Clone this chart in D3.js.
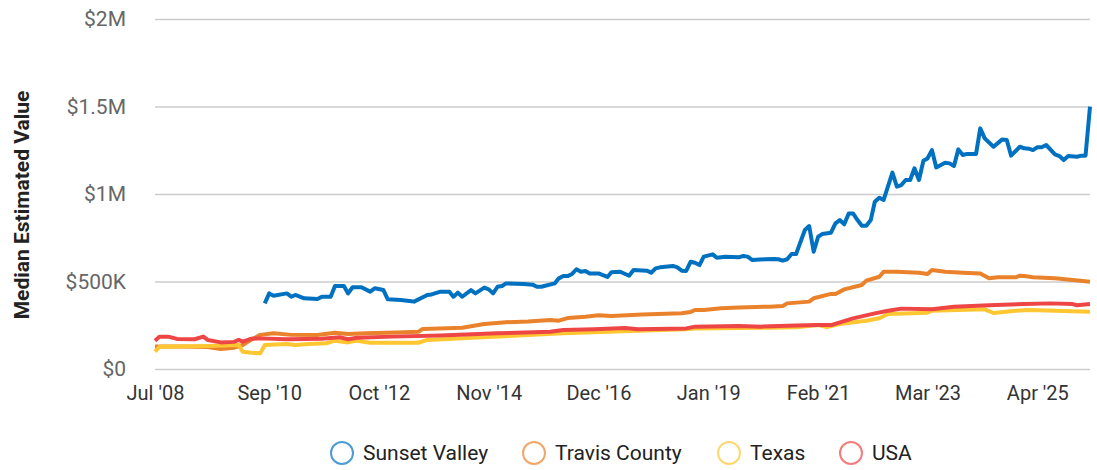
<!DOCTYPE html>
<meta charset="utf-8">
<body style="margin:0;background:#fff">
</body>
<script src="https://d3js.org/d3.v7.min.js"></script>
<script>

// series names and colours (legend order)
var seriesNames = ["Sunset Valley", "Travis County", "Texas", "USA"];
var lineColors = ["#0071c1", "#e9822a", "#fec631", "#ee4545"];

// values in $K, [month, value]
var sunsetValley = [
  ["2010-08",375],["2010-09",432],["2010-10",419],["2011-01",432],["2011-02",413],["2011-03",423],
  ["2011-05",404],["2011-08",400],["2011-09",413],["2011-11",413],["2011-12",474],["2012-02",474],
  ["2012-03",432],["2012-04",467],["2012-06",467],["2012-08",442],["2012-09",461],["2012-11",451],
  ["2012-12",398],["2013-03",394],["2013-05",389],["2013-06",385],["2013-09",423],["2013-10",426],
  ["2013-12",442],["2014-02",442],["2014-03",413],["2014-04",436],["2014-05",413],["2014-07",451],
  ["2014-08",432],["2014-10",465],["2014-11",455],["2014-12",432],["2015-01",470],["2015-02",474],
  ["2015-03",489],["2015-07",486],["2015-09",482],["2015-10",470],["2015-11",470],["2016-02",489],
  ["2016-03",518],["2016-04",531],["2016-05",531],["2016-06",543],["2016-07",570],["2016-08",556],
  ["2016-09",560],["2016-10",546],["2016-12",546],["2017-02",526],["2017-03",553],["2017-05",556],
  ["2017-07",533],["2017-08",566],["2017-11",562],["2017-12",550],["2018-01",575],["2018-02",581],
  ["2018-05",589],["2018-06",581],["2018-07",562],["2018-08",560],["2018-09",613],["2018-10",607],
  ["2018-11",594],["2018-12",642],["2019-02",655],["2019-03",636],["2019-05",642],["2019-08",638],
  ["2019-09",646],["2019-10",642],["2019-11",623],["2020-02",627],["2020-04",629],["2020-05",627],
  ["2020-06",619],["2020-07",627],["2020-08",657],["2020-09",657],["2020-11",794],["2020-12",817],
  ["2021-01",670],["2021-02",756],["2021-03",771],["2021-05",779],["2021-06",832],["2021-07",851],
  ["2021-08",827],["2021-09",889],["2021-10",889],["2021-11",851],["2021-12",819],["2022-01",819],
  ["2022-02",851],["2022-03",956],["2022-04",979],["2022-05",966],["2022-07",1122],["2022-08",1042],
  ["2022-09",1051],["2022-10",1080],["2022-11",1080],["2022-12",1147],["2023-01",1080],["2023-02",1190],
  ["2023-03",1203],["2023-04",1251],["2023-05",1152],["2023-07",1179],["2023-08",1175],["2023-09",1160],
  ["2023-10",1255],["2023-11",1223],["2023-12",1229],["2024-02",1229],["2024-03",1375],["2024-04",1318],
  ["2024-06",1270],["2024-08",1312],["2024-09",1309],["2024-10",1219],["2024-12",1270],["2025-01",1261],
  ["2025-02",1259],["2025-03",1251],["2025-04",1267],["2025-05",1267],["2025-06",1280],["2025-08",1227],
  ["2025-09",1217],["2025-10",1194],["2025-11",1217],["2026-01",1213],["2026-02",1219],["2026-03",1219],
  ["2026-04",1499]
];

var travisCounty = [
  ["2008-07",128],["2009-01",128],["2009-07",126],["2009-10",114],["2010-01",122],["2010-03",137],
  ["2010-05",168],["2010-07",195],["2010-10",204],["2011-02",195],["2011-08",194],["2011-12",207],
  ["2012-03",200],["2012-07",204],["2013-02",209],["2013-07",213],["2013-08",229],["2013-10",230],
  ["2014-05",236],["2014-10",257],["2015-03",267],["2015-08",272],["2016-01",280],["2016-03",276],
  ["2016-05",291],["2016-09",299],["2016-12",307],["2017-03",303],["2017-10",312],["2018-07",318],
  ["2018-09",326],["2018-10",337],["2018-12",337],["2019-04",347],["2019-08",352],["2020-03",356],
  ["2020-06",360],["2020-07",375],["2020-12",385],["2021-01",404],["2021-05",429],["2021-06",429],
  ["2021-08",455],["2021-12",480],["2022-01",505],["2022-04",527],["2022-05",556],["2022-08",556],
  ["2023-01",550],["2023-03",543],["2023-04",566],["2023-07",556],["2023-11",550],["2024-03",546],
  ["2024-05",518],["2024-07",524],["2024-11",524],["2024-12",533],["2025-01",531],["2025-03",524],
  ["2025-08",518],["2025-12",509],["2026-04",499]
];

var texas = [
  ["2008-07",99],["2008-08",127],["2009-07",131],["2010-02",137],["2010-03",99],["2010-05",93],
  ["2010-07",90],["2010-08",137],["2011-01",143],["2011-03",137],["2011-06",143],["2011-10",147],
  ["2011-12",162],["2012-03",152],["2012-05",162],["2012-08",150],["2013-07",150],["2013-09",166],
  ["2015-01",185],["2016-04",204],["2017-09",219],["2018-08",227],["2018-10",232],["2020-03",236],
  ["2020-09",238],["2021-02",251],["2021-04",240],["2021-07",257],["2022-01",276],["2022-04",290],
  ["2022-06",314],["2023-03",322],["2023-04",333],["2024-04",341],["2024-06",320],["2024-11",333],
  ["2025-02",337],["2026-04",327]
];

var usa = [
  ["2008-07",162],["2008-08",185],["2008-10",185],["2008-12",172],["2009-04",170],["2009-06",185],
  ["2009-07",166],["2009-10",152],["2010-01",155],["2010-02",166],["2010-03",156],["2010-05",173],
  ["2010-07",175],["2011-01",170],["2011-09",173],["2012-01",181],["2012-03",170],["2012-05",179],
  ["2013-01",185],["2013-12",192],["2015-01",204],["2016-01",213],["2016-04",223],["2016-11",227],
  ["2017-06",234],["2017-09",227],["2018-08",232],["2018-10",242],["2019-08",246],["2020-01",242],
  ["2020-09",248],["2021-02",251],["2021-05",251],["2021-10",289],["2022-03",318],["2022-06",333],
  ["2022-09",345],["2023-04",341],["2023-09",356],["2024-05",364],["2025-01",371],["2025-07",375],
  ["2025-12",371],["2026-01",364],["2026-04",371]
];

var xTickMonths = ["2008-07","2010-09","2012-10","2014-11","2016-12","2019-01","2021-02","2023-03","2025-04"];
var xTickLabels = ["Jul '08","Sep '10","Oct '12","Nov '14","Dec '16","Jan '19","Feb '21","Mar '23","Apr '25"];
var yTicks = [0, 500, 1000, 1500, 2000];
var yTickLabels = ["$0", "$500K", "$1M", "$1.5M", "$2M"];

var width = 1097, height = 470;
var margin = {top: 19, right: 7, bottom: 101, left: 155};
var parseMonth = d3.timeParse("%Y-%m");

var svg = d3.select("body").append("svg")
  .attr("width", width)
  .attr("height", height)
  .style("font-family", "Roboto, sans-serif");

var x = d3.scaleTime()
  .domain([parseMonth("2008-07"), parseMonth("2026-04")])
  .range([margin.left, width - margin.right]);

var y = d3.scaleLinear()
  .domain([0, 2000])
  .range([height - margin.bottom, margin.top]);

// grid lines + y labels
var yAxis = svg.append("g")
  .attr("transform", "translate(" + margin.left + ",0)")
  .call(d3.axisLeft(y)
    .tickValues(yTicks)
    .tickSize(-(width - margin.left - margin.right))
    .tickPadding(29)
    .tickFormat(function(d, i) { return yTickLabels[i]; }));
yAxis.select(".domain").remove();
yAxis.selectAll(".tick line").attr("stroke", "#cccccc").attr("stroke-width", 1.5);
yAxis.selectAll(".tick text")
  .attr("fill", "#666")
  .style("font-size", "21px")
  .style("font-family", "Roboto, sans-serif");

// x labels
var xAxis = svg.append("g")
  .attr("transform", "translate(0," + (height - margin.bottom) + ")")
  .call(d3.axisBottom(x)
    .tickValues(xTickMonths.map(parseMonth))
    .tickSize(0)
    .tickPadding(17)
    .tickFormat(function(d, i) { return xTickLabels[i]; }));
xAxis.select(".domain").remove();
xAxis.selectAll(".tick text")
  .attr("fill", "#333")
  .style("font-size", "20px")
  .style("font-family", "Roboto, sans-serif");

// y axis title
svg.append("text")
  .attr("transform", "translate(29," + ((margin.top + height - margin.bottom) / 2 + 11) + ") rotate(-90)")
  .attr("text-anchor", "middle")
  .attr("fill", "#222")
  .style("font-size", "21px")
  .style("font-weight", "bold")
  .text("Median Estimated Value");

var line = d3.line()
  .x(function(d) { return x(parseMonth(d[0])); })
  .y(function(d) { return y(d[1]); });

var allSeries = [sunsetValley, travisCounty, texas, usa];
allSeries.forEach(function(s, i) {
  svg.append("path")
    .datum(s)
    .attr("fill", "none")
    .attr("stroke", lineColors[i])
    .attr("stroke-width", 4)
    .attr("stroke-linejoin", "round")
    .attr("d", line);
});

// legend
var legendX = [342, 534, 729, 851];
var legend = svg.append("g").attr("transform", "translate(0,453)");
seriesNames.forEach(function(name, i) {
  legend.append("circle")
    .attr("cx", legendX[i])
    .attr("cy", 0)
    .attr("r", 11)
    .attr("fill", "none")
    .attr("stroke", lineColors[i])
    .attr("stroke-opacity", 0.7)
    .attr("stroke-width", 2);
  legend.append("text")
    .attr("x", legendX[i] + 21)
    .attr("y", 0)
    .attr("dy", "0.35em")
    .attr("fill", "#222")
    .style("font-size", "21px")
    .text(name);
});

</script>
